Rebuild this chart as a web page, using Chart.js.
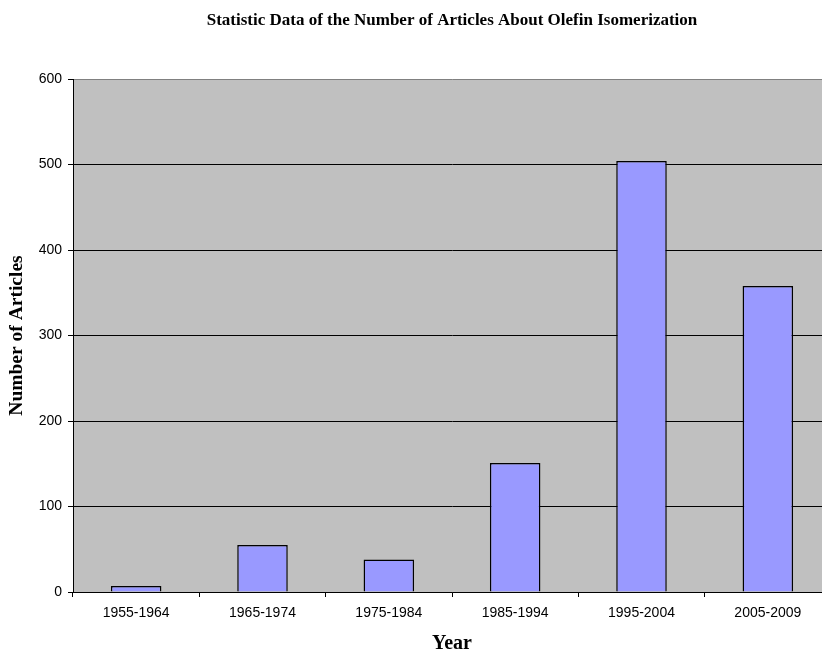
<!DOCTYPE html>
<html>
<head>
<meta charset="utf-8">
<script src="https://cdn.jsdelivr.net/npm/chart.js@4"></script>
<style>
  html, body { margin: 0; padding: 0; background: #fff; overflow: hidden; }
  #wrap { width: 840px; height: 652px; }
</style>
</head>
<body>
<div id="wrap"><canvas id="myChart" width="840" height="652"></canvas></div>
<script>
const periods = ['1955-1964', '1965-1974', '1975-1984', '1985-1994', '1995-2004', '2005-2009'];
const articleCounts = [7, 55, 38, 151, 504, 358];
const yTicks = [0, 100, 200, 300, 400, 500, 600];

// grey plot background like the old spreadsheet charts
const plotBackground = {
  id: 'plotBackground',
  beforeDraw(chart) {
    const a = chart.chartArea;
    const ctx = chart.ctx;
    ctx.save();
    ctx.fillStyle = '#c0c0c0';
    ctx.fillRect(a.left, a.top, a.right - a.left, a.bottom - a.top);
    ctx.restore();
  }
};

const serif = '"Liberation Serif", "Times New Roman", serif';
const sans = '"Liberation Sans", Arial, sans-serif';

const data = {
  labels: periods,
  datasets: [{
    label: 'Number of Articles',
    backgroundColor: '#9999ff',
    borderColor: '#000000',
    borderWidth: 1.5,
    borderSkipped: 'bottom',
    barPercentage: 0.4,
    categoryPercentage: 1.0,
    data: articleCounts
  }]
};

const config = {
  type: 'bar',
  data: data,
  plugins: [plotBackground],
  options: {
    responsive: false,
    animation: false,
    layout: { padding: { left: 0, right: 9, top: 0, bottom: 0 } },
    plugins: {
      legend: { display: false },
      tooltip: { enabled: false },
      title: {
        display: true,
        fullSize: false,
        text: 'Statistic Data of the Number of Articles About Olefin Isomerization',
        color: '#000',
        font: { family: serif, size: 17, weight: 'bold', lineHeight: 1.2 },
        padding: { top: 10, bottom: 48.6 }
      }
    },
    scales: {
      x: {
        afterFit: (scale) => { scale.height = 60; },
        grid: {
          offset: true,
          drawOnChartArea: false,
          drawTicks: true,
          tickLength: 5,
          tickColor: '#000'
        },
        border: { color: '#000', width: 1 },
        ticks: {
          color: '#000',
          padding: 8,
          font: { family: sans, size: 14 }
        },
        title: {
          display: true,
          text: 'Year',
          color: '#000',
          font: { family: serif, size: 20, weight: 'bold', lineHeight: 0.8 },
          padding: { top: 0, bottom: 0 }
        }
      },
      y: {
        min: 0,
        max: 600,
        afterFit: (scale) => { scale.width = 73; },
        afterBuildTicks: (scale) => { scale.ticks = yTicks.map(v => ({ value: v })); },
        grid: {
          color: (ctx) => (ctx.tick && ctx.tick.value === 600 ? '#808080' : '#000'),
          lineWidth: 1,
          tickLength: 5,
          tickColor: '#000'
        },
        border: { color: '#000', width: 1 },
        ticks: {
          color: '#000',
          padding: 6,
          font: { family: sans, size: 14 }
        },
        title: {
          display: true,
          text: 'Number of Articles',
          color: '#000',
          font: { family: serif, size: 19.5, weight: 'bold', lineHeight: 1.2 },
          padding: { top: 5, bottom: 0 }
        }
      }
    }
  }
};

const myChart = new Chart(document.getElementById('myChart'), config);
</script>
</body>
</html>
